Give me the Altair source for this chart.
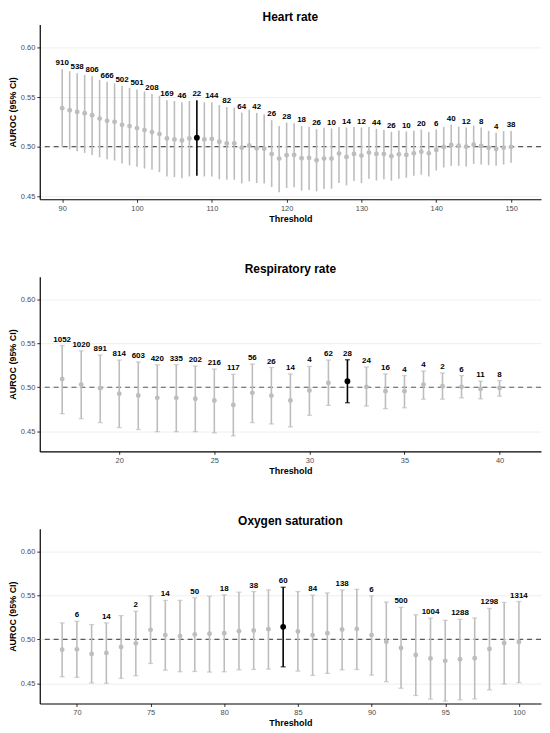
import altair as alt
import pandas as pd

# ---------------- Heart rate ----------------
hr_thr = list(range(90, 151))
hr_auc = [0.5387, 0.5367, 0.5350, 0.5337, 0.5317, 0.5283, 0.5260, 0.5250, 0.5220, 0.5207,
          0.5187, 0.5167, 0.5147, 0.5127, 0.5083, 0.5073, 0.5063, 0.5083, 0.5090, 0.5073,
          0.5077, 0.5050, 0.5033, 0.5033, 0.4990, 0.5013, 0.4983, 0.4980, 0.4925, 0.4880,
          0.4913, 0.4917, 0.4883, 0.4887, 0.4863, 0.4880, 0.4880, 0.4930, 0.4897, 0.4927,
          0.4910, 0.4940, 0.4927, 0.4927, 0.4903, 0.4923, 0.4917, 0.4933, 0.4950, 0.4933,
          0.4967, 0.4997, 0.5017, 0.5010, 0.5000, 0.5020, 0.5007, 0.4990, 0.4977, 0.4990,
          0.4997]
hr_lo = [0.5000, 0.4973, 0.4953, 0.4937, 0.4917, 0.4893, 0.4873, 0.4860, 0.4830, 0.4813,
         0.4797, 0.4780, 0.4767, 0.4743, 0.4700, 0.4693, 0.4683, 0.4700, 0.4707, 0.4700,
         0.4700, 0.4673, 0.4667, 0.4667, 0.4630, 0.4650, 0.4633, 0.4630, 0.4593, 0.4540,
         0.4583, 0.4590, 0.4557, 0.4563, 0.4550, 0.4573, 0.4577, 0.4633, 0.4610, 0.4653,
         0.4633, 0.4677, 0.4660, 0.4673, 0.4657, 0.4677, 0.4687, 0.4707, 0.4717, 0.4700,
         0.4760, 0.4790, 0.4807, 0.4807, 0.4800, 0.4827, 0.4820, 0.4813, 0.4807, 0.4820,
         0.4837]
hr_hi = [0.5780, 0.5760, 0.5740, 0.5723, 0.5710, 0.5673, 0.5653, 0.5637, 0.5613, 0.5593,
         0.5577, 0.5557, 0.5530, 0.5513, 0.5467, 0.5460, 0.5447, 0.5460, 0.5467, 0.5447,
         0.5447, 0.5420, 0.5400, 0.5393, 0.5343, 0.5373, 0.5340, 0.5327, 0.5267, 0.5207,
         0.5243, 0.5237, 0.5207, 0.5200, 0.5177, 0.5190, 0.5183, 0.5197, 0.5193, 0.5197,
         0.5193, 0.5197, 0.5180, 0.5167, 0.5150, 0.5163, 0.5153, 0.5160, 0.5173, 0.5147,
         0.5173, 0.5200, 0.5223, 0.5203, 0.5193, 0.5213, 0.5193, 0.5160, 0.5140, 0.5157,
         0.5157]
hr_label_thr = list(range(90, 151, 2))
hr_counts = [910, 538, 806, 666, 502, 501, 208, 169, 46, 22, 144, 82, 64, 42, 26, 28,
             18, 26, 10, 14, 12, 44, 26, 10, 20, 6, 40, 12, 8, 4, 38]
hr_best = 108

# ---------------- Respiratory rate ----------------
rr_thr = list(range(17, 41))
rr_auc = [0.5095, 0.5031, 0.4990, 0.4926, 0.4907, 0.4880, 0.4880, 0.4869, 0.4850, 0.4798,
          0.4937, 0.4905, 0.4850, 0.4963, 0.5050, 0.5069, 0.5005, 0.4956, 0.4956, 0.5031,
          0.5012, 0.5005, 0.4982, 0.4993]
rr_lo = [0.4700, 0.4643, 0.4598, 0.4541, 0.4519, 0.4495, 0.4495, 0.4495, 0.4481, 0.4447,
         0.4598, 0.4583, 0.4549, 0.4681, 0.4794, 0.4824, 0.4786, 0.4756, 0.4767, 0.4865,
         0.4865, 0.4880, 0.4869, 0.4899]
rr_hi = [0.5476, 0.5416, 0.5367, 0.5310, 0.5288, 0.5257, 0.5257, 0.5242, 0.5208, 0.5148,
         0.5265, 0.5225, 0.5152, 0.5238, 0.5310, 0.5314, 0.5231, 0.5152, 0.5133, 0.5186,
         0.5163, 0.5133, 0.5069, 0.5076]
rr_label_thr = list(range(17, 41))
rr_counts = [1052, 1020, 891, 814, 603, 420, 335, 202, 216, 117, 56, 26, 14, 4, 62, 28,
             24, 16, 4, 4, 2, 6, 11, 8]
rr_best = 32

# ---------------- Oxygen saturation ----------------
os_thr = list(range(69, 101))
os_auc = [0.4883, 0.4887, 0.4835, 0.4846, 0.4914, 0.4955, 0.5109, 0.5049, 0.5038, 0.5056,
          0.5064, 0.5071, 0.5094, 0.5102, 0.5117, 0.5143, 0.5090, 0.5049, 0.5071, 0.5113,
          0.5120, 0.5049, 0.4974, 0.4902, 0.4823, 0.4782, 0.4756, 0.4774, 0.4786, 0.4891,
          0.4959, 0.4970]
os_lo = [0.4575, 0.4568, 0.4504, 0.4500, 0.4556, 0.4586, 0.4726, 0.4650, 0.4632, 0.4635,
         0.4628, 0.4632, 0.4654, 0.4658, 0.4662, 0.4688, 0.4639, 0.4590, 0.4613, 0.4654,
         0.4658, 0.4594, 0.4519, 0.4444, 0.4361, 0.4320, 0.4297, 0.4312, 0.4323, 0.4425,
         0.4492, 0.4508]
os_hi = [0.5188, 0.5207, 0.5169, 0.5188, 0.5271, 0.5320, 0.5496, 0.5444, 0.5444, 0.5474,
         0.5492, 0.5508, 0.5538, 0.5545, 0.5564, 0.5594, 0.5545, 0.5504, 0.5530, 0.5564,
         0.5571, 0.5496, 0.5425, 0.5365, 0.5280, 0.5242, 0.5218, 0.5229, 0.5244, 0.5353,
         0.5421, 0.5432]
os_label_thr = list(range(70, 101, 2))
os_counts = [6, 14, 2, 14, 50, 18, 38, 60, 84, 138, 6, 500, 1004, 1288, 1298, 1314]
os_best = 84

y_ticks = [0.45, 0.50, 0.55, 0.60]
FONT = "Liberation Sans"
GRAY = "#bdbdbd"


def panel(title, thr, auc, lo, hi, lab_thr, counts, best, xdom, xticks, ydom, caps):
    df = pd.DataFrame({"thr": thr, "auc": auc, "lo": lo, "hi": hi})
    df["best"] = df["thr"] == best
    lab = pd.DataFrame({"thr": lab_thr, "n": [str(c) for c in counts]})
    lab = lab.merge(df[["thr", "hi"]], on="thr", how="left")

    xs = alt.Scale(domain=xdom, nice=False, zero=False)
    ys = alt.Scale(domain=ydom, nice=False, zero=False)
    xax = alt.Axis(values=xticks, title="Threshold", grid=False, format="d")
    yax = alt.Axis(values=y_ticks, title="AUROC (95% CI)", grid=True, format=".2f",
                   gridColor="#ebebeb", gridWidth=0.8)
    X = alt.X("thr:Q", scale=xs, axis=xax)
    col = alt.when(alt.datum.best).then(alt.value("black")).otherwise(alt.value(GRAY))

    base = alt.Chart(df)
    bars = base.mark_rule(strokeWidth=1.6).encode(
        x=X, y=alt.Y("lo:Q", scale=ys, axis=yax), y2="hi:Q", color=col)
    layers = [bars]
    if caps:
        for f in ["lo", "hi"]:
            layers.append(base.mark_tick(orient="horizontal", size=5, thickness=1.3).encode(
                x=X, y=alt.Y(f + ":Q", scale=ys, axis=yax), color=col))
    ref = alt.Chart(pd.DataFrame({"v": [0.5]})).mark_rule(
        strokeDash=[5, 4], color="#5a5a5a", strokeWidth=1.1).encode(
        y=alt.Y("v:Q", scale=ys, axis=yax))
    pts = base.mark_circle(opacity=1).encode(
        x=X, y=alt.Y("auc:Q", scale=ys, axis=yax), color=col,
        size=alt.when(alt.datum.best).then(alt.value(34)).otherwise(alt.value(24)))
    txt = alt.Chart(lab).mark_text(fontWeight="bold", fontSize=8, font=FONT,
                                   baseline="bottom", dy=-2, color="black").encode(
        x=X, y=alt.Y("hi:Q", scale=ys, axis=yax), text="n:N")
    return alt.layer(ref, *layers, pts, txt).properties(
        width=505, height=176, title=alt.TitleParams(title, offset=1))


p1 = panel("Heart rate", hr_thr, hr_auc, hr_lo, hr_hi, hr_label_thr, hr_counts, hr_best,
           [87.0, 154.0], list(range(90, 151, 10)), [0.447, 0.623], False)
p2 = panel("Respiratory rate", rr_thr, rr_auc, rr_lo, rr_hi, rr_label_thr, rr_counts, rr_best,
           [15.82, 42.18], [20, 25, 30, 35, 40], [0.427, 0.626], True)
p3 = panel("Oxygen saturation", os_thr, os_auc, os_lo, os_hi, os_label_thr, os_counts, os_best,
           [67.48, 101.5], [70, 75, 80, 85, 90, 95, 100], [0.427, 0.626], True)

chart = alt.vconcat(p1, p2, p3, spacing=39).properties(
    padding={"left": 0, "top": 0, "right": 0, "bottom": 0}
).configure_view(stroke=None).configure_axis(
    labelFont=FONT, labelFontSize=7.5, labelColor="#4d4d4d",
    titleFont=FONT, titleFontSize=9, titleFontWeight="bold", titleColor="black",
    domainColor="black", domainWidth=1.2, tickColor="#333333", tickSize=3,
    labelPadding=2, titlePadding=3,
).configure_title(
    font=FONT, fontSize=12, fontWeight="bold", color="black", anchor="middle"
)

chart.save("out.html", embed_options={"renderer": "svg", "actions": False})
